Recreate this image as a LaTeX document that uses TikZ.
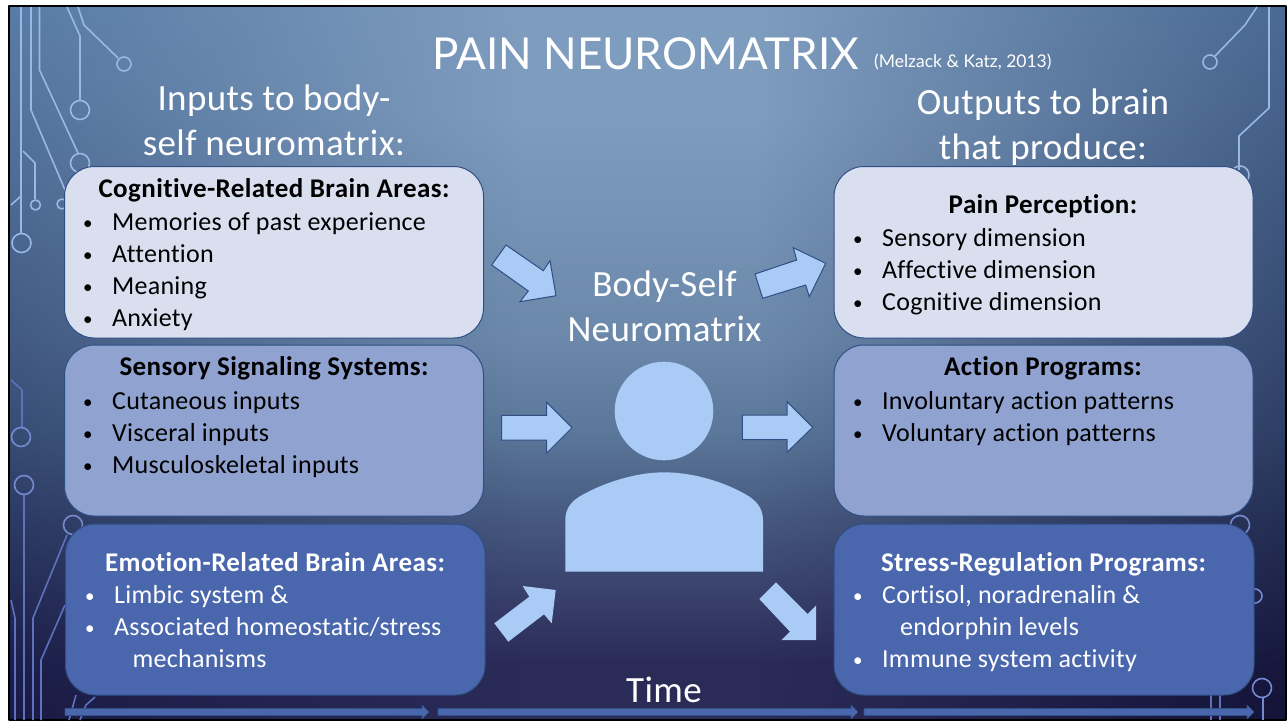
\documentclass[tikz,border=0pt]{standalone}
\usepackage{fontspec}
\setmainfont[Ligatures=NoCommon,LetterSpace=1,BoldFeatures={LetterSpace=1.5}]{Carlito}
\newfontfamily\titlefont{Lato}
\usetikzlibrary{fadings}
\definecolor{bgA}{HTML}{7E9CBE}
\definecolor{bgB}{HTML}{6B88AA}
\definecolor{bgC}{HTML}{5A7699}
\definecolor{bgD}{HTML}{46587F}
\definecolor{bgE}{HTML}{2B2B58}
\definecolor{leftA}{HTML}{446B99}
\definecolor{leftB}{HTML}{385E85}
\definecolor{leftC}{HTML}{10123A}
\definecolor{rightA}{HTML}{395986}
\definecolor{rightB}{HTML}{201D4B}
\definecolor{rightC}{HTML}{0D0B2E}
\definecolor{boxA}{HTML}{DADFF0}
\definecolor{boxB}{HTML}{8FA2D0}
\definecolor{boxC}{HTML}{4A67AE}
\definecolor{edgeC}{HTML}{2F4F85}
\definecolor{arrowC}{HTML}{ABCBF7}
\definecolor{traceA}{HTML}{A9C8F5}
\definecolor{traceB}{HTML}{5F70BD}
\pgfdeclareverticalshading{slidebg}{100bp}{color(0bp)=(bgE); color(29bp)=(bgE); color(39bp)=(bgD); color(45bp)=(bgC); color(51.5bp)=(bgB); color(67.5bp)=(bgA); color(100bp)=(bgA)}
\tikzfading[name=fadeleft, left color=transparent!35, right color=transparent!100]
\tikzfading[name=faderight, left color=transparent!100, right color=transparent!25]
\tikzset{
	pane/.style={rounded corners=30pt, draw=edgeC, line width=1pt},
	paneA/.style={pane, fill=boxA},
	paneB/.style={pane, fill=boxB},
	paneC/.style={pane, fill=boxC},
	bodytext/.style={font=\fontsize{26}{26}\selectfont, anchor=base west, inner sep=0pt, yshift=-.8pt},
	headtext/.style={font=\fontsize{27}{27}\selectfont\bfseries, anchor=base, inner sep=0pt, yshift=-.8pt},
	bigtext/.style={font=\fontsize{37}{37}\selectfont, anchor=base, inner sep=0pt, text=white, yshift=-1.5pt},
	blockarrow/.style={fill=arrowC, draw=edgeC, line width=1pt, line join=miter},
	timearrow/.style={fill=boxC, draw=edgeC, line width=.6pt},
	traceup/.style={draw=traceA!80!bgC, line width=1.6pt},
	tracelow/.style={draw=traceB, line width=1.6pt}
}
\newcommand{\itemline}[1]{\makebox[29pt][l]{\raisebox{1.5pt}{\fontsize{19}{19}\selectfont •}}#1}
\begin{document}
\begin{tikzpicture}[x=1pt,y=-1pt,line join=round]
	\useasboundingbox (0,0) rectangle (1288,723);
	% --- Slide background ---
	\fill[white] (0,0) rectangle (1288,723);
	\shade[shading=slidebg] (9,6) rectangle (1286,720);
	\shade[top color=leftA, middle color=leftB, bottom color=leftC, path fading=fadeleft] (9,6) rectangle (520,720);
	\shade[top color=rightA, middle color=rightB, bottom color=rightC, path fading=faderight] (760,6) rectangle (1286,720);
	\draw[black, line width=2pt] (9,6) rectangle (1286,720);
	% --- Circuit traces, upper part ---
	\draw[traceup] (21,7)--(21,233) (31,7)--(31,110)--(65,190) (39.5,7)--(39.5,70)--(78,153);
	\draw[traceup] (67,7)--(80,36)--(80,100) (78,7)--(84,25)--(118,58);
	\draw[traceup] (23,151)--(35,163)--(35,199) (11,205)--(21,196);
	\draw[traceup] (1257,7)--(1245,25)--(1215,56) (1269,7)--(1269,108)--(1239,136)--(1239,170);
	\foreach \cx/\cy/\cr in {21.5/243/9.5, 80/110/9.5, 80/163/9.5, 124/64/7, 35.5/205/5, 62/204/5, 1210/62/7, 1240/175/9}
		\draw[traceup] (\cx,\cy) circle (\cr);
	% --- Circuit traces, lower part ---
	\draw[tracelow] (11,380)--(22,390)--(22,428) (24,495)--(24,720) (67,535)--(33,618)--(33,720);
	\draw[tracelow] (65,605)--(41,660)--(41,720) (11,600)--(15,618)--(15,720);
	\draw[tracelow] (76,695)--(69,720) (95,697)--(86,705)--(80,720);
	\draw[tracelow] (1211,695)--(1211,720) (1220,695)--(1220,720);
	\draw[traceB!70!traceA, line width=1.6pt] (1263,697)--(1263,720);
	\foreach \cx/\cy/\cr in {21/437/9.5, 24/485/9.5, 73/525/9.5, 1240/525/9.5, 1255/596/7, 1262/688/9.5}
		\draw[traceB!70!traceA, line width=1.6pt] (\cx,\cy) circle (\cr);
	% --- Title and captions ---
	\node[anchor=base west, inner sep=0pt, text=white, font=\titlefont\fontsize{44}{44}\selectfont] (title) at (432,69) {PAIN NEUROMATRIX};
	\node[anchor=base west, inner sep=0pt, text=white, font=\titlefont\fontsize{17.5}{17.5}\selectfont] (cite) at (874,67) {(Melzack \& Katz, 2013)};
	\node[bigtext] (inputsA) at (274,109) {Inputs to body-};
	\node[bigtext] (inputsB) at (274,154) {self neuromatrix:};
	\node[bigtext] (outputsA) at (1043,113) {Outputs to brain};
	\node[bigtext] (outputsB) at (1043,158) {that produce:};
	\node[bigtext] (matrixA) at (664.5,295) {Body-Self};
	\node[bigtext] (matrixB) at (664.5,340) {Neuromatrix};
	\node[bigtext] (timelabel) at (664,701) {Time};
	% --- Left boxes ---
	\draw[paneA] (64.5,166.5) rectangle (483.5,338);
	\draw[paneB] (64.5,345) rectangle (483.5,516);
	\draw[paneC] (65.5,524) rectangle (485,695);
	\node[headtext] (cogn) at (274,197) {Cognitive-Related Brain Areas:};
	\node[bodytext] (cognA) at (83,230) {\itemline{Memories of past experience}};
	\node[bodytext] (cognB) at (83,262) {\itemline{Attention}};
	\node[bodytext] (cognC) at (83,294) {\itemline{Meaning}};
	\node[bodytext] (cognD) at (83,326) {\itemline{Anxiety}};
	\node[headtext] (sens) at (274,375) {Sensory Signaling Systems:};
	\node[bodytext] (sensA) at (83,409) {\itemline{Cutaneous inputs}};
	\node[bodytext] (sensB) at (83,441) {\itemline{Visceral inputs}};
	\node[bodytext] (sensC) at (83,473) {\itemline{Musculoskeletal inputs}};
	\node[headtext, text=white] (emot) at (275,571) {Emotion-Related Brain Areas:};
	\node[bodytext, text=white] (emotA) at (85,603) {\itemline{Limbic system \&}};
	\node[bodytext, text=white] (emotB) at (85,635) {\itemline{Associated homeostatic/stress}};
	\node[bodytext, text=white] (emotC) at (132.5,667) {mechanisms};
	% --- Right boxes ---
	\draw[paneA] (834,166.5) rectangle (1253,338);
	\draw[paneB] (834,345) rectangle (1253,516);
	\draw[paneC] (834,524) rectangle (1254,695);
	\node[headtext] (perc) at (1043,213) {Pain Perception:};
	\node[bodytext] (percA) at (853,246) {\itemline{Sensory dimension}};
	\node[bodytext] (percB) at (853,278) {\itemline{Affective dimension}};
	\node[bodytext] (percC) at (853,310) {\itemline{Cognitive dimension}};
	\node[headtext] (acti) at (1043,375) {Action Programs:};
	\node[bodytext] (actiA) at (853,409) {\itemline{Involuntary action patterns}};
	\node[bodytext] (actiB) at (853,441) {\itemline{Voluntary action patterns}};
	\node[headtext, text=white] (stre) at (1043.5,571) {Stress-Regulation Programs:};
	\node[bodytext, text=white] (streA) at (853,603) {\itemline{Cortisol, noradrenalin \&}};
	\node[bodytext, text=white] (streB) at (900,635) {endorphin levels};
	\node[bodytext, text=white] (streC) at (853,667) {\itemline{Immune system activity}};
	% --- Block arrows ---
	\draw[blockarrow] (506,245)--(543.3,270.7)--(550,260.7)--(556,295.7)--(520,301.7)--(528.3,291)--(491.7,265)--cycle;
	\draw[blockarrow] (755,274)--(796.7,260)--(793.3,247.7)--(825.7,263.3)--(809.3,296.7)--(805.7,285)--(762.7,298.3)--cycle;
	\draw[blockarrow] (501.7,415.3)--(546.7,415.3)--(546.7,402.3)--(572,427.7)--(546.7,453)--(546.7,440)--(501.7,440)--cycle;
	\draw[blockarrow] (742.3,415)--(787,415)--(787,401.7)--(812.7,427.3)--(787,452.3)--(787,439.7)--(742.3,439.7)--cycle;
	\fill[arrowC] (494.3,623.3)--(529.3,596.7)--(522.7,586)--(555.7,590)--(551.7,623.3)--(544,614.3)--(508.3,641.7)--cycle;
	\fill[arrowC] (776,582.3)--(807.7,614)--(816,605.7)--(816,640)--(781.7,640)--(790,631.7)--(759.3,599)--cycle;
	% --- Person ---
	\fill[arrowC] (664,411) circle (49.3);
	\fill[arrowC] (565.3,571.7)--(565.3,520) .. controls (565.3,508) and (572,500) .. (584,494) .. controls (610,480) and (640,472.3) .. (664,472.3) .. controls (690,472.3) and (720,480) .. (745,494) .. controls (756,500) and (763,508) .. (763,520)--(763,571.7)--cycle;
	% --- Time line ---
	\foreach \xa/\xb in {65/429, 438/858, 864/1254}
		\draw[timearrow] (\xa,708.5)--(\xb-7,708.5)--(\xb-7,705)--(\xb,712)--(\xb-7,719)--(\xb-7,715.5)--(\xa,715.5)--cycle;
\end{tikzpicture}
\end{document}
